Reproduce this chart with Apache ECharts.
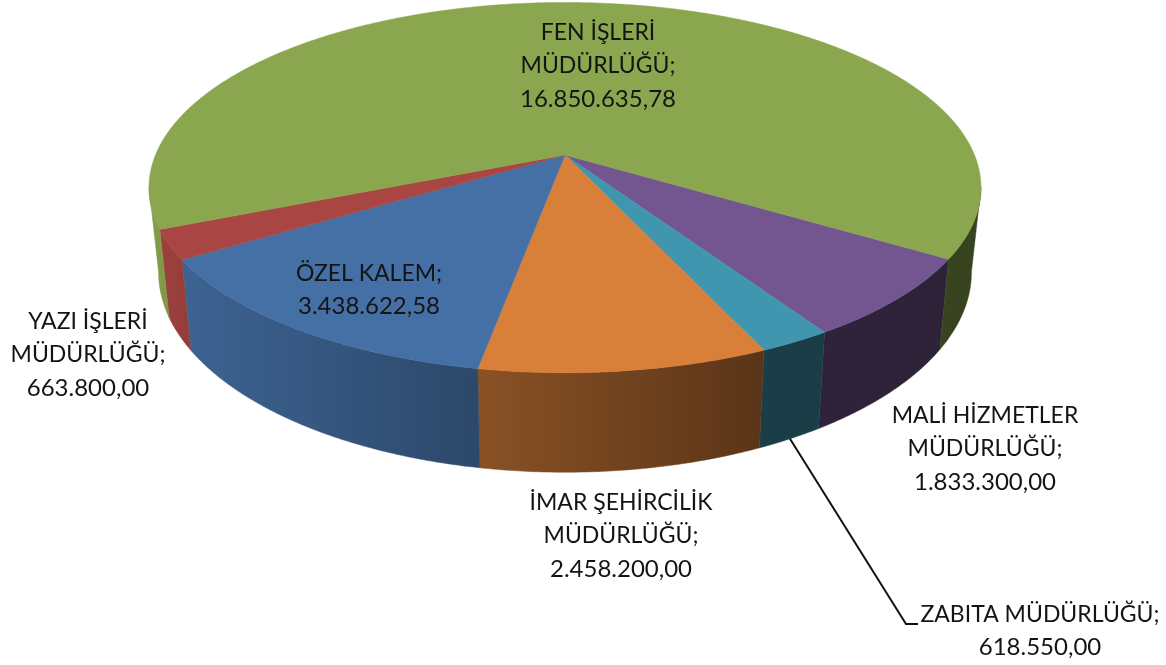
<!DOCTYPE html>
<html>
<head>
<meta charset="utf-8">
<title>Müdürlük bütçeleri</title>
<script src="https://cdn.jsdelivr.net/npm/echarts@6/dist/echarts.min.js"></script>
<style>
  html, body { margin: 0; padding: 0; background: #fff; }
  #main { width: 1166px; height: 665px; }
</style>
</head>
<body>
<div id="main"></div>
<script>
// clockwise, starting from the slice that follows FEN ISLERI
const categories = ['MALİ HİZMETLER\nMÜDÜRLÜĞÜ;', 'ZABITA MÜDÜRLÜĞÜ;', 'İMAR ŞEHİRCİLİK\nMÜDÜRLÜĞÜ;', 'ÖZEL KALEM;', 'YAZI İŞLERİ\nMÜDÜRLÜĞÜ;', 'FEN İŞLERİ\nMÜDÜRLÜĞÜ;'];
const values = [1833300.00, 618550.00, 2458200.00, 3438622.58, 663800.00, 16850635.78];
const valueLabels = ['1.833.300,00', '618.550,00', '2.458.200,00', '3.438.622,58', '663.800,00', '16.850.635,78'];
const colors = ['#73558f', '#3f96ae', '#d87f3a', '#4570a6', '#a94542', '#8aa64e'];
const labelCenters = [[985, 449], [1040, 631], [621, 536], [369, 290], [88, 355], [598, 66]];

// pie projection: tilted disc with a little perspective
const cx = 565, cy = 155, rx = 409.5, ry = 179.4, persp = 0.176, depth = 82, bottomScale = 0.977;
const startAngle = 31.8;
const wallFrom = 10, wallTo = 170;
const total = values.reduce((a, b) => a + b, 0);
const leaderElbow = [[906, 624], [918, 624]];

function sliceRange(i) {
  let sum = 0;
  for (let k = 0; k < i; k++) sum += values[k];
  return [startAngle + sum / total * 360, startAngle + (sum + values[i]) / total * 360];
}
function topPoint(deg) {
  const t = deg * Math.PI / 180, w = 1 - persp * Math.sin(t);
  return [cx + rx * Math.cos(t) / w, cy + ry * Math.sin(t) / w];
}
function bottomPoint(deg) {
  const t = deg * Math.PI / 180, w = 1 - persp * Math.sin(t);
  return [cx + bottomScale * rx * Math.cos(t) / w, cy + (ry * Math.sin(t) + depth) / w];
}
function arc(fn, from, to) {
  const pts = [], n = Math.max(2, Math.ceil(Math.abs(to - from) * 2));
  for (let j = 0; j <= n; j++) pts.push(fn(from + (to - from) * j / n));
  return pts;
}
function shade(hex, f) {
  const n = parseInt(hex.slice(1), 16);
  return 'rgb(' + [n >> 16, (n >> 8) & 255, n & 255].map(c => Math.round(c * f)).join(',') + ')';
}
// side wall gets darker from left to right
function wallFill(hex) {
  const stops = [[150, 0.95], [185, 0.88], [480, 0.64], [770, 0.41], [980, 0.4]];
  return {
    type: 'linear', x: 150, y: 0, x2: 980, y2: 0, global: true,
    colorStops: stops.map(s => ({ offset: (s[0] - 150) / 830, color: shade(hex, s[1]) }))
  };
}

function renderWall(params, api) {
  const i = api.value(0), r = sliceRange(i), children = [];
  [0, 360].forEach(shift => {
    const lo = Math.max(r[0], wallFrom + shift), hi = Math.min(r[1], wallTo + shift);
    if (hi <= lo) return;
    const pts = arc(topPoint, lo, hi).concat(arc(bottomPoint, hi, lo));
    const fill = wallFill(colors[i]);
    children.push({ type: 'polygon', shape: { points: pts }, style: { fill: fill, stroke: fill, lineWidth: 0.5 } });
  });
  return { type: 'group', children: children };
}
function renderTop(params, api) {
  const i = api.value(0), r = sliceRange(i);
  const pts = [[cx, cy]].concat(arc(topPoint, r[0], r[1]));
  return { type: 'polygon', shape: { points: pts }, style: { fill: colors[i], stroke: colors[i], lineWidth: 0.5 } };
}
function renderLabel(params, api) {
  const i = api.value(0), c = labelCenters[i];
  const lines = categories[i].split('\n').map(s => '{n|' + s + '}');
  lines.push('{v|' + valueLabels[i] + '}');
  return {
    type: 'text',
    style: {
      x: c[0], y: c[1], text: lines.join('\n'),
      align: 'center', verticalAlign: 'middle',
      fill: '#141414',
      rich: {
        n: { font: '23px Lato', lineHeight: 33, fill: '#141414' },
        v: { font: '24px Lato', lineHeight: 33, fill: '#141414' }
      }
    }
  };
}
function renderLeader(params, api) {
  const r = sliceRange(api.value(0));
  const pts = [bottomPoint((r[0] + r[1]) / 2)].concat(leaderElbow);
  return { type: 'polyline', shape: { points: pts }, style: { fill: null, stroke: '#111', lineWidth: 2 } };
}

const rows = values.map((v, i) => [i, v]);
const chart = echarts.init(document.getElementById('main'), null, { renderer: 'canvas' });
chart.setOption({
  animation: false,
  backgroundColor: '#fff',
  series: [
    { type: 'custom', coordinateSystem: 'none', silent: true, z: 1, data: rows, renderItem: renderWall },
    { type: 'custom', coordinateSystem: 'none', silent: true, z: 2, data: rows, renderItem: renderTop },
    { type: 'custom', coordinateSystem: 'none', silent: true, z: 3, data: [rows[1]], renderItem: renderLeader },
    { type: 'custom', coordinateSystem: 'none', silent: true, z: 4, data: rows, renderItem: renderLabel }
  ]
});
</script>
</body>
</html>
